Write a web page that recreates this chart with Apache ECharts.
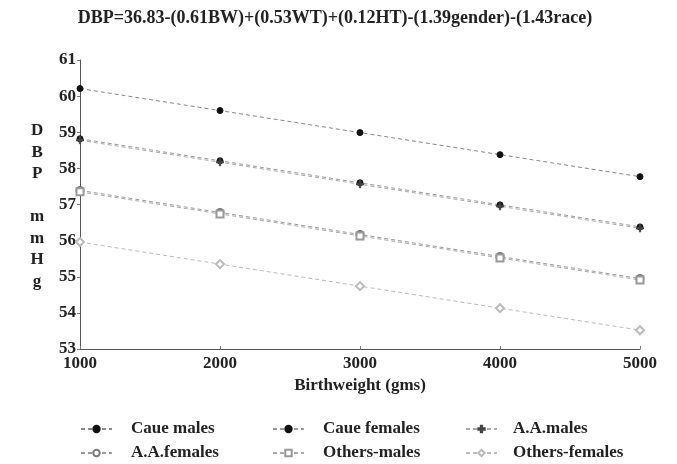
<!DOCTYPE html>
<html>
<head>
<meta charset="utf-8">
<script src="https://cdn.jsdelivr.net/npm/echarts@6/dist/echarts.min.js"></script>
<style>
  html, body { margin: 0; padding: 0; background: #fff; }
  #chart { width: 677px; height: 464px; }
</style>
</head>
<body>
<div id="chart"></div>
<script>
// Birthweight groups (g)
const birthweights = [1000, 2000, 3000, 4000, 5000];

// Predicted diastolic blood pressure (mmHg) per group
const caueMales     = [60.21, 59.60, 58.99, 58.38, 57.77];
const caueFemales   = [58.82, 58.21, 57.60, 56.99, 56.38];
const aaMales       = [58.78, 58.17, 57.56, 56.95, 56.34];
const aaFemales     = [57.39, 56.78, 56.17, 55.56, 54.95];
const othersMales   = [57.35, 56.74, 56.13, 55.52, 54.91];
const othersFemales = [55.96, 55.35, 54.74, 54.13, 53.52];

const seriesNames = ['Caue males', 'Caue females', 'A.A.males', 'A.A.females', 'Others-males', 'Others-females'];

const FONT = '"Liberation Serif", "Times New Roman", serif';
const plusPath = 'path://M4,0 L6,0 L6,4 L10,4 L10,6 L6,6 L6,10 L4,10 L4,6 L0,6 L0,4 L4,4 Z';

function pairs(vals) {
  return birthweights.map((bw, i) => [bw, vals[i]]);
}

function lineSeries(name, vals, symbol, size, markColor, lineColor, filled) {
  return {
    name: name,
    type: 'line',
    data: pairs(vals),
    symbol: symbol,
    symbolSize: size,
    showAllSymbol: true,
    lineStyle: { color: lineColor, width: 1, type: [4, 3] },
    itemStyle: filled
      ? { color: markColor, borderColor: markColor, borderWidth: 1 }
      : { color: markColor, borderColor: markColor, borderWidth: 1.2 },
    emphasis: { disabled: true },
    animation: false
  };
}

const chart = echarts.init(document.getElementById('chart'));

// One two-row legend column
function legendBlock(left, names, textGap) {
  return {
    orient: 'vertical',
    left: left,
    top: 419,
    padding: 0,
    itemWidth: 31,
    itemHeight: 8,
    itemGap: 4,
    data: names,
    selectedMode: false,
    textStyle: {
      fontFamily: FONT, fontWeight: 'bold', fontSize: 17, color: '#222',
      lineHeight: 20,
      padding: [0, 0, 0, textGap]
    }
  };
}

chart.setOption({
  backgroundColor: '#fff',
  animation: false,
  title: {
    text: 'DBP=36.83-(0.61BW)+(0.53WT)+(0.12HT)-(1.39gender)-(1.43race)',
    left: 330,
    top: 4,
    textAlign: 'center',
    textStyle: { fontFamily: FONT, fontWeight: 'bold', fontSize: 18, color: '#222' }
  },
  grid: { left: 80, right: 37, top: 60, bottom: 115, containLabel: false },
  xAxis: {
    type: 'value',
    min: 1000,
    max: 5000,
    interval: 1000,
    name: 'Birthweight (gms)',
    nameLocation: 'middle',
    nameGap: 27,
    nameTextStyle: { fontFamily: FONT, fontWeight: 'bold', fontSize: 17, color: '#222' },
    axisLine: { lineStyle: { color: '#555', width: 1 } },
    axisTick: { show: true, inside: true, length: 3, lineStyle: { color: '#777' } },
    axisLabel: {
      fontFamily: FONT, fontWeight: 'bold', fontSize: 17, color: '#222', margin: 6,
      formatter: v => String(v)
    },
    splitLine: { show: false }
  },
  yAxis: {
    type: 'value',
    min: 53,
    max: 61,
    interval: 1,
    axisLine: { show: true, lineStyle: { color: '#555', width: 1 } },
    axisTick: { show: true, length: 3, lineStyle: { color: '#777' } },
    axisLabel: { fontFamily: FONT, fontWeight: 'bold', fontSize: 17, color: '#222', margin: 4 },
    splitLine: { show: false }
  },
  legend: [
    legendBlock(80, ['Caue males', 'A.A.females'], 14),
    legendBlock(272, ['Caue females', 'Others-males'], 14),
    legendBlock(465, ['A.A.males', 'Others-females'], 11)
  ],
  graphic: [{
    type: 'text',
    left: 30,
    top: 120,
    style: {
      text: 'D\nB\nP\n\nm\nm\nH\ng',
      font: 'bold 17px ' + FONT,
      fill: '#222',
      lineHeight: 21.5,
      textAlign: 'center'
    }
  }],
  series: [
    lineSeries(seriesNames[0], caueMales, 'circle', 6, '#111', '#888', true),
    lineSeries(seriesNames[1], caueFemales, 'circle', 6, '#111', '#999', true),
    lineSeries(seriesNames[2], aaMales, plusPath, 7, '#444', '#aaa', true),
    lineSeries(seriesNames[3], aaFemales, 'emptyCircle', 7, '#777', '#999', false),
    lineSeries(seriesNames[4], othersMales, 'emptyRect', 7, '#999', '#aaa', false),
    lineSeries(seriesNames[5], othersFemales, 'emptyDiamond', 8, '#bbb', '#bbb', false)
  ]
});
</script>
</body>
</html>
